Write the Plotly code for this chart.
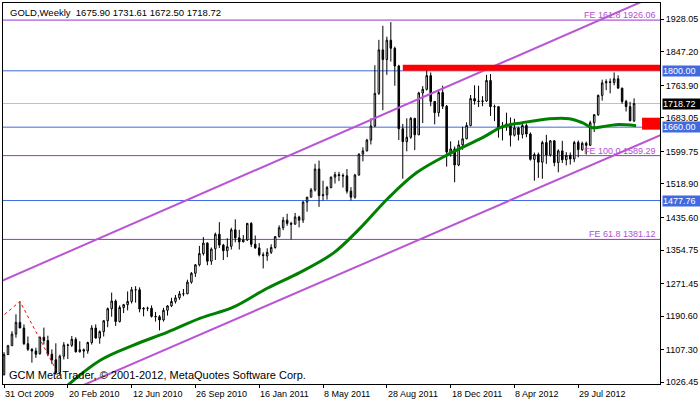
import plotly.graph_objects as go

# ---------------- data ----------------
opens = [1045, 1095, 1117, 1146, 1175, 1161, 1122, 1108, 1104, 1097, 1138, 1130, 1096, 1082, 1050, 1091, 1119, 1118, 1133, 1102,
         1107, 1104, 1125, 1161, 1136, 1152, 1179, 1209, 1228, 1177, 1212, 1219, 1227, 1256, 1256, 1208, 1210, 1210, 1190, 1189,
         1181, 1205, 1216, 1227, 1236, 1246, 1246, 1275, 1297, 1318, 1346, 1372, 1327, 1358, 1394, 1367, 1353, 1364, 1405, 1385,
         1375, 1380, 1421, 1369, 1360, 1343, 1340, 1349, 1361, 1388, 1410, 1429, 1421, 1419, 1437, 1429, 1474, 1486, 1504, 1556,
         1490, 1492, 1510, 1536, 1542, 1540, 1539, 1501, 1486, 1541, 1593, 1601, 1628, 1663, 1744, 1852, 1828, 1876, 1856, 1812,
         1656, 1624, 1635, 1682, 1641, 1745, 1754, 1788, 1724, 1696, 1746, 1712, 1598, 1606, 1566, 1616, 1631, 1664, 1731, 1725,
         1724, 1725, 1776, 1711, 1711, 1658, 1662, 1668, 1640, 1658, 1642, 1664, 1643, 1580, 1592, 1573, 1622, 1591, 1626, 1572,
         1601, 1579, 1590, 1581, 1622, 1604, 1620, 1615, 1671, 1691, 1739, 1770, 1773, 1771, 1780, 1757, 1724, 1711, 1675.90]
highs = [1101, 1119, 1153, 1195, 1227, 1170, 1140, 1111, 1112, 1140, 1162, 1142, 1108, 1123, 1095, 1126, 1122, 1141, 1138, 1128,
         1110, 1127, 1168, 1170, 1155, 1181, 1212, 1249, 1232, 1217, 1221, 1252, 1263, 1265, 1262, 1213, 1214, 1217, 1201, 1193,
         1211, 1218, 1236, 1243, 1253, 1258, 1281, 1300, 1320, 1365, 1387, 1374, 1361, 1398, 1424, 1370, 1384, 1410, 1431, 1405,
         1392, 1422, 1424, 1391, 1372, 1349, 1359, 1369, 1389, 1416, 1437, 1445, 1425, 1447, 1440, 1476, 1487, 1509, 1569, 1577,
         1527, 1514, 1537, 1549, 1549, 1545, 1556, 1511, 1544, 1595, 1610, 1631, 1682, 1814, 1877, 1912, 1885, 1921, 1860, 1815,
         1668, 1682, 1685, 1682, 1748, 1762, 1802, 1796, 1725, 1754, 1763, 1715, 1625, 1612, 1627, 1661, 1672, 1740, 1764, 1763,
         1737, 1790, 1792, 1716, 1712, 1673, 1696, 1684, 1681, 1661, 1670, 1669, 1647, 1597, 1597, 1626, 1641, 1628, 1628, 1605,
         1626, 1598, 1597, 1626, 1627, 1624, 1624, 1676, 1692, 1741, 1778, 1779, 1781, 1796, 1789, 1758, 1728, 1723, 1731.61]
lows = [1043, 1094, 1117, 1137, 1166, 1119, 1104, 1075, 1087, 1095, 1120, 1091, 1072, 1045, 1044, 1083, 1084, 1114, 1100, 1100,
        1087, 1097, 1120, 1135, 1122, 1140, 1163, 1189, 1166, 1175, 1198, 1205, 1222, 1224, 1200, 1190, 1203, 1187, 1177, 1155,
        1177, 1192, 1213, 1222, 1231, 1240, 1245, 1271, 1288, 1314, 1341, 1317, 1318, 1330, 1360, 1330, 1337, 1356, 1374, 1356,
        1374, 1377, 1362, 1358, 1339, 1309, 1328, 1345, 1358, 1386, 1404, 1415, 1381, 1418, 1411, 1422, 1450, 1486, 1500, 1462,
        1478, 1480, 1508, 1520, 1526, 1510, 1495, 1478, 1482, 1540, 1575, 1600, 1617, 1660, 1740, 1702, 1790, 1823, 1763, 1628,
        1532, 1600, 1631, 1603, 1641, 1670, 1751, 1712, 1667, 1686, 1705, 1562, 1587, 1523, 1563, 1604, 1630, 1662, 1716, 1710,
        1712, 1723, 1688, 1675, 1634, 1627, 1651, 1612, 1637, 1627, 1632, 1635, 1577, 1527, 1534, 1532, 1569, 1587, 1563, 1548,
        1571, 1565, 1567, 1573, 1585, 1601, 1592, 1613, 1648, 1688, 1726, 1752, 1744, 1764, 1756, 1718, 1699, 1675, 1672.50]
closes = [1095, 1117, 1146, 1175, 1161, 1122, 1108, 1104, 1096, 1138, 1130, 1096, 1082, 1050, 1091, 1119, 1118, 1133, 1102, 1107,
          1104, 1125, 1161, 1136, 1152, 1179, 1209, 1228, 1177, 1212, 1219, 1227, 1256, 1256, 1208, 1210, 1210, 1190, 1189, 1181,
          1205, 1216, 1227, 1236, 1246, 1246, 1275, 1297, 1318, 1346, 1372, 1327, 1357, 1394, 1367, 1353, 1363, 1405, 1385, 1375,
          1380, 1421, 1369, 1360, 1343, 1341, 1349, 1361, 1388, 1410, 1429, 1421, 1419, 1437, 1429, 1474, 1486, 1504, 1556, 1490,
          1492, 1510, 1536, 1542, 1540, 1539, 1501, 1486, 1541, 1593, 1601, 1628, 1663, 1744, 1852, 1828, 1876, 1856, 1812, 1656,
          1624, 1635, 1682, 1641, 1745, 1754, 1788, 1724, 1696, 1746, 1712, 1598, 1606, 1566, 1616, 1631, 1664, 1731, 1725, 1724,
          1725, 1776, 1711, 1711, 1658, 1662, 1668, 1640, 1658, 1642, 1664, 1643, 1580, 1592, 1573, 1622, 1591, 1626, 1572, 1601,
          1579, 1590, 1581, 1622, 1604, 1620, 1615, 1671, 1691, 1739, 1770, 1773, 1771, 1780, 1757, 1724, 1711, 1676, 1718.72]

date_labels = ["31 Oct 2009", "20 Feb 2010", "12 Jun 2010", "26 Sep 2010", "16 Jan 2011",
               "8 May 2011", "28 Aug 2011", "18 Dec 2011", "8 Apr 2012", "29 Jul 2012"]
date_label_bars = [0, 16, 32, 48, 64, 80, 96, 112, 128, 144]

price_ticks = [1928.05, 1847.20, 1763.90, 1683.05, 1599.75, 1518.90, 1435.60,
               1354.75, 1271.45, 1190.60, 1107.30, 1026.45]

# moving average
ma_x = [15.75, 24.25, 32.5, 41, 49.25, 57.5, 66, 74.25, 82.5, 89.25, 96.25, 103.5,
        111.75, 120, 125, 130, 136.75, 141.75, 145, 147.5, 150, 153.5, 158.5]
ma_y = [1016.9, 1081.4, 1118.5, 1150.8, 1185.5, 1212.7, 1259.8, 1299.4, 1346.5, 1408.5, 1482.8, 1547.2,
        1594.3, 1634.0, 1661.2, 1671.1, 1681.1, 1681.1, 1671.1, 1658.8, 1661.2, 1666.2, 1663.7]

# channel lines
upper_x = [-1, 166]
upper_y = [1276.3, 1998.0]
lower_x = [18, 166]
lower_y = [1011.0, 1646.0]

# zigzag
zz_x = [-1, 4, 13]
zz_y = [1185.0, 1227.0, 1058.0]

blue_levels = [1800.00, 1660.00, 1477.76]
fe_levels = [1926.06, 1589.29, 1381.12]
fe_names = ["FE 161.8", "FE 100.0", "FE 61.8"]
bid = 1718.72

zones = [(100, 200, 1800.0, 1815.0), (160, 200, 1653.8, 1683.5)]

title_text = "GOLD,Weekly\u00a0\u00a01675.90 1731.61 1672.50 1718.72"
copyright_text = "GCM MetaTrader, \u00a9 2001-2012, MetaQuotes Software Corp."

FONT = "Liberation Sans, Arial, sans-serif"
BLUE = "#4169E1"
FE_LINE = "#9932CC"
FE_TEXT = "#B050D0"
ORCHID = "#BA55D3"

x_range = [-0.25, 164.5]
y_range = [1021.9, 1968.5]

idx = list(range(len(opens)))

fig = go.Figure()

fig.add_trace(go.Candlestick(
    x=idx, open=opens, high=highs, low=lows, close=closes,
    increasing=dict(fillcolor="white", line=dict(color="black", width=1)),
    decreasing=dict(fillcolor="black", line=dict(color="black", width=1)),
    whiskerwidth=0, hoverinfo="skip", showlegend=False))

fig.add_trace(go.Scatter(x=ma_x, y=ma_y, mode="lines", line=dict(color="#008000", width=3, shape="spline"),
                         hoverinfo="skip", showlegend=False))
fig.add_trace(go.Scatter(x=upper_x, y=upper_y, mode="lines", line=dict(color=ORCHID, width=2),
                         hoverinfo="skip", showlegend=False))
fig.add_trace(go.Scatter(x=lower_x, y=lower_y, mode="lines", line=dict(color=ORCHID, width=2),
                         hoverinfo="skip", showlegend=False))
fig.add_trace(go.Scatter(x=zz_x, y=zz_y, mode="lines", line=dict(color="red", width=1, dash="dot"),
                         hoverinfo="skip", showlegend=False))

shapes = []
shapes.append(dict(type="line", xref="paper", x0=0, x1=1, yref="y", y0=bid, y1=bid,
                   line=dict(color="#C0C0C0", width=1), layer="below"))
for lv in fe_levels:
    shapes.append(dict(type="line", xref="paper", x0=0, x1=1, yref="y", y0=lv, y1=lv,
                       line=dict(color=FE_LINE, width=1), layer="below"))
for lv in blue_levels:
    shapes.append(dict(type="line", xref="paper", x0=0, x1=1, yref="y", y0=lv, y1=lv,
                       line=dict(color=BLUE, width=1), layer="below"))
for (x0, x1, y0, y1) in zones:
    shapes.append(dict(type="rect", xref="x", x0=x0, x1=min(x1, x_range[1]), yref="y", y0=y0, y1=y1,
                       fillcolor="red", line=dict(width=0), layer="above"))

annotations = []
annotations.append(dict(xref="paper", x=0, xanchor="left", xshift=5, yref="paper", y=1, yanchor="top", yshift=-2,
                        text=title_text, showarrow=False, font=dict(family=FONT, size=9.5, color="black")))
annotations.append(dict(xref="paper", x=0, xanchor="left", xshift=4, yref="paper", y=0, yanchor="bottom", yshift=1,
                        text=copyright_text, showarrow=False, font=dict(family=FONT, size=11, color="black")))
for name, lv in zip(fe_names, fe_levels):
    annotations.append(dict(xref="paper", x=1, xanchor="right", xshift=-2, yref="y", y=lv, yanchor="bottom",
                            yshift=-2, text=f"{name} {lv:.2f}", showarrow=False,
                            font=dict(family=FONT, size=9, color=FE_TEXT)))
for lv in blue_levels:
    annotations.append(dict(xref="paper", x=1, xanchor="left", xshift=2, yref="y", y=lv, yanchor="middle",
                            text=f"{lv:.2f}", showarrow=False, bgcolor=BLUE, borderpad=0, width=37, height=10,
                            align="left", font=dict(family=FONT, size=9, color="white")))
annotations.append(dict(xref="paper", x=1, xanchor="left", xshift=2, yref="y", y=bid, yanchor="middle",
                        text=f"{bid:.2f}", showarrow=False, bgcolor="black", borderpad=0, width=37, height=10,
                        align="left", font=dict(family=FONT, size=9, color="white")))
for b, lab in zip(date_label_bars, date_labels):
    annotations.append(dict(xref="x", x=b, xanchor="left", xshift=-1, yref="paper", y=0, yanchor="top", yshift=-3,
                            text=lab, showarrow=False, font=dict(family=FONT, size=9, color="black")))

fig.update_layout(
    width=700, height=402,
    margin=dict(l=2, r=39, t=2, b=18),
    paper_bgcolor="white", plot_bgcolor="white",
    shapes=shapes, annotations=annotations,
    boxgap=0.45,
    xaxis=dict(range=x_range, showgrid=False, zeroline=False, rangeslider=dict(visible=False),
               showline=True, linecolor="black", linewidth=1, mirror=True,
               tickmode="array", tickvals=date_label_bars, showticklabels=False,
               ticks="outside", ticklen=3, tickcolor="black"),
    yaxis=dict(range=y_range, side="right", showgrid=False, zeroline=False,
               showline=True, linecolor="black", linewidth=1, mirror=True,
               tickmode="array", tickvals=price_ticks, ticktext=[f"{p:.2f}" for p in price_ticks],
               ticks="outside", ticklen=3, tickcolor="black",
               tickfont=dict(family=FONT, size=9, color="black")),
)

fig.write_html("out.html", config={"displayModeBar": False},
               post_script="document.body.style.margin='0';document.body.style.overflow='hidden';")
